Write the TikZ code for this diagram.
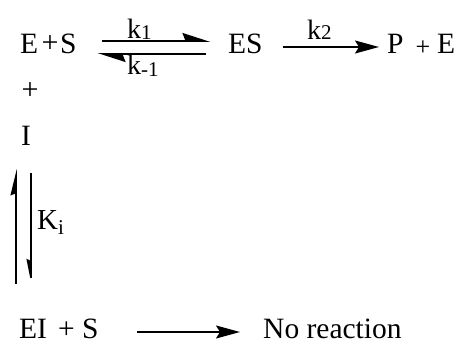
\documentclass[tikz,border=0pt]{standalone}
\usepackage{fontspec}
\setmainfont{Liberation Serif}
\usetikzlibrary{arrows.meta}
\tikzset{
  chem/.style={font=\fontsize{29.5}{30}\selectfont, inner sep=0pt, anchor=base west},
  rate/.style={font=\fontsize{28}{28}\selectfont, inner sep=0pt, anchor=base west},
  plussign/.style={font=\fontsize{30}{30}\selectfont, inner sep=0pt},
  rxn/.style={line width=1.6pt, -{Stealth[length=24pt, width=13pt, inset=4pt]}},
  harp/.style={line width=1.6pt, -{Stealth[harpoon, length=25pt, width=16pt, inset=3pt]}},
  vharp/.style={line width=1.6pt, -{Stealth[harpoon, length=23pt, width=11pt, inset=2pt]}},
  vharpsw/.style={line width=1.6pt, -{Stealth[harpoon, swap, length=23pt, width=9pt, inset=2pt]}}
}
\begin{document}
\begin{tikzpicture}[x=1pt, y=-1pt]
\useasboundingbox (0,0) rectangle (469,343);
% top row
\node[chem] (E1) at (20,53) {E};
\node[plussign] (p1) at (50,44) {+};
\node[chem] (S1) at (60,53) {S};
\node[chem] (ES) at (228,53) {ES};
\node[chem] (P) at (387,53) {P};
\node[plussign, font=\fontsize{26}{26}\selectfont] (p2) at (423,48) {+};
\node[chem] (E2) at (437,53) {E};
\coordinate (a1s) at (102,41);
\coordinate (a1e) at (210,41);
\coordinate (a2s) at (206,54);
\coordinate (a2e) at (98,54);
\draw[harp] (a1s) -- (a1e);
\draw[harp] (a2s) -- (a2e);
\node[rate] (k1) at (127,38) {k\raisebox{-1pt}{\fontsize{21}{21}\selectfont 1}};
\node[rate] (km1) at (127,74) {k\raisebox{-2pt}{\fontsize{21}{21}\selectfont -1}};
\coordinate (a3s) at (283,47);
\coordinate (a3e) at (379,47);
\draw[rxn] (a3s) -- (a3e);
\node[rate] (k2) at (307,39) {k\raisebox{0pt}{\fontsize{21}{21}\selectfont 2}};
% plus and inhibitor
\node[plussign] (plus) at (30,91) {+};
\node[chem] (I) at (21,145) {I};
\coordinate (v1s) at (16,284);
\coordinate (v1e) at (16,169);
\coordinate (v2s) at (31,173);
\coordinate (v2e) at (31,286);
\draw[vharp] (v1s) -- (v1e);
\draw[vharpsw] (v2s) -- (v2e);
\node[chem, font=\fontsize{29}{29}\selectfont] (Ki) at (37,229) {K\raisebox{-5pt}{\fontsize{21}{21}\selectfont i}};
% bottom row
\node[chem] (EI) at (19,338) {EI};
\node[chem] (plus2) at (58,338) {+};
\node[chem] (S) at (82,338) {S};
\coordinate (a4s) at (137,332);
\coordinate (a4e) at (240,332);
\draw[rxn] (a4s) -- (a4e);
\node[chem] (NR) at (263,338) {No reaction};
\end{tikzpicture}
\end{document}
